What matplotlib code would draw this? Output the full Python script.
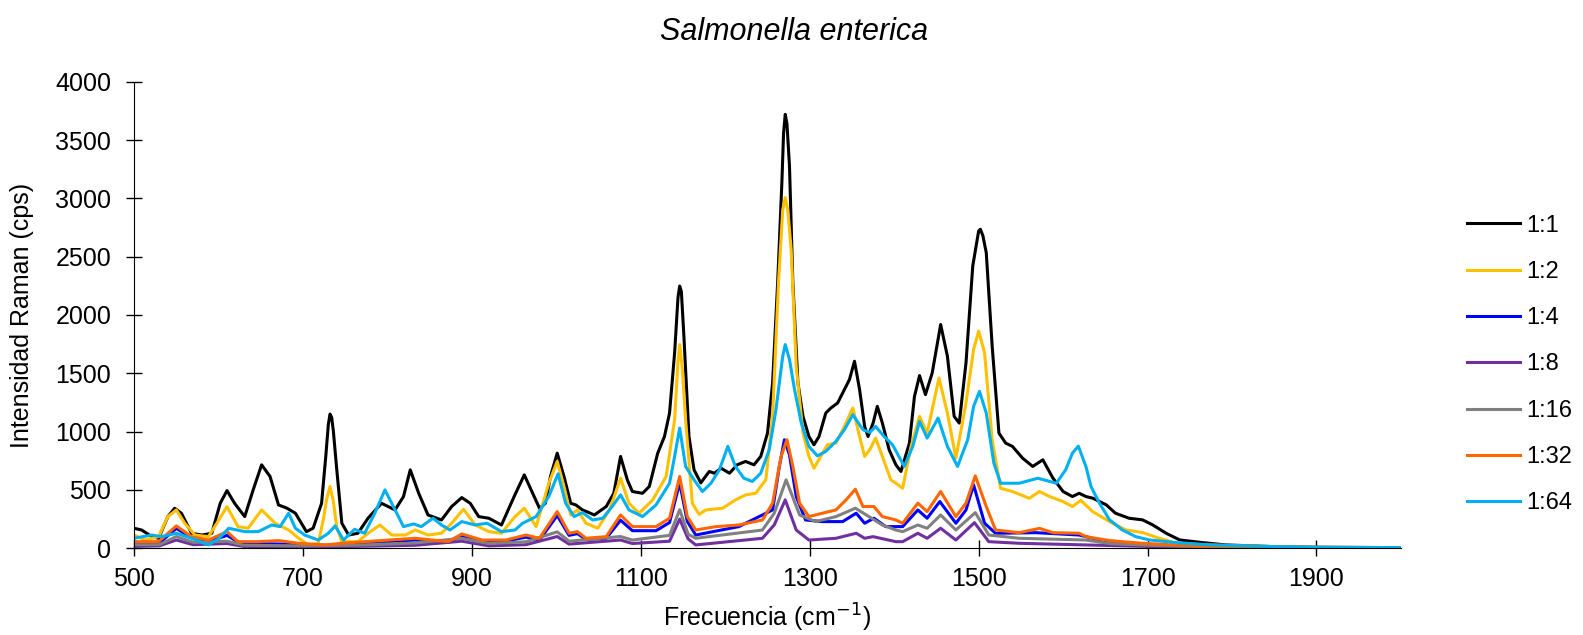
import matplotlib
matplotlib.use("Agg")
from matplotlib import pyplot as plt

plt.rcParams['font.family'] = ['Liberation Sans', 'DejaVu Sans']

# espectros: (frecuencia cm-1, intensidad cps)
s_1_1 = [(500,171),(509,156),(521,99),(529,85),(540,271),(548,343),(556,300),(568,128),(580,113),(592,128),
         (602,385),(610,494),(619,385),(631,271),(641,500),(651,715),(661,615),(671,371),(681,343),(691,300),
         (704,142),(712,171),(722,385),(727,790),(730,1060),(732,1150),(734,1120),(736,1000),(740,672),(746,214),(754,113),(765,128),
         (777,257),(793,385),(809,328),(819,443),(827,672),(837,471),(848,285),(864,242),(876,357),(888,434),
         (898,385),(908,271),(920,257),(935,199),(950,443),(962,629),(972,471),(980,343),(987,385),(993,615),
         (1001,815),(1009,615),(1017,385),(1023,371),(1031,328),(1045,285),(1059,357),(1068,471),(1076,787),
         (1084,586),(1090,486),(1102,471),(1110,529),(1120,815),(1128,958),(1134,1159),(1140,1675),(1144,2150),(1146,2248),
         (1148,2200),(1151,1818),(1157,958),(1163,672),(1171,560),(1181,658),(1187,643),(1195,686),(1205,643),(1214,715),
         (1224,744),(1234,715),(1242,787),(1250,987),(1256,1417),(1262,2276),(1267,3136),(1269,3560),(1271,3720),
         (1273,3640),(1276,3279),
         (1280,2276),(1286,1417),(1292,1130),(1299,958),(1305,887),(1311,958),(1319,1159),(1325,1202),(1333,1245),
         (1341,1360),(1347,1446),(1353,1603),(1359,1360),(1365,1044),(1369,958),(1375,1073),(1380,1216),(1386,1073),
         (1394,844),(1402,715),(1408,658),(1418,901),(1424,1302),(1430,1480),(1437,1317),(1445,1503),(1455,1918),
         (1463,1646),(1471,1130),(1477,1073),(1485,1589),(1493,2420),(1500,2720),(1502,2735),(1505,2680),(1509,2534),(1516,1732),(1524,987),
         (1532,901),(1540,873),(1552,772),(1564,701),(1576,758),(1588,600),(1600,486),(1611,443),(1619,471),
         (1627,443),(1635,429),(1651,372),(1662,300),(1678,257),(1694,243),(1706,200),(1722,128),(1738,71),
         (1765,48),(1793,28),(1852,13),(1900,8),(2000,5)]

s_1_2 = [(500,113),(513,70),(529,99),(540,271),(550,328),(560,214),(572,113),(588,99),(598,214),(610,357),
         (623,185),(635,171),(651,328),(667,214),(683,156),(695,85),(706,28),(718,42),(724,242),(728,420),
         (732,529),(736,400),(740,180),(746,56),(765,56),(777,128),(791,199),(805,113),(821,113),(833,156),
         (848,113),(864,128),(876,214),(890,334),(904,199),(920,142),(935,128),(951,271),(962,343),(976,185),
         (991,557),(1001,744),(1009,529),(1017,285),(1025,328),(1035,214),(1049,171),(1063,328),(1076,600),
         (1086,385),(1098,300),(1114,414),(1130,615),(1140,1102),(1144,1600),(1146,1746),(1149,1550),(1153,1102),(1161,385),(1169,290),
         (1177,328),(1197,343),(1212,414),(1224,457),(1236,471),(1248,586),(1256,1130),(1263,2276),(1268,2900),(1271,3007),
         (1274,2900),(1278,2563),(1284,1560),(1292,987),(1299,787),(1305,686),(1313,787),(1321,887),(1331,901),(1341,1044),
         (1351,1202),(1359,958),(1365,787),(1371,844),(1378,944),(1386,787),(1396,586),(1402,557),(1410,514),
         (1420,873),(1430,1130),(1439,987),(1453,1460),(1463,1159),(1473,772),(1485,1245),(1494,1704),(1500,1861),
         (1507,1675),(1516,930),(1526,514),(1540,486),(1560,428),(1572,486),(1584,443),(1600,400),(1611,357),
         (1621,410),(1635,314),(1655,228),(1674,157),(1694,134),(1714,85),(1734,42),(1773,28),(1852,13),
         (1900,8),(2000,5)]

s_1_4 = [(500,40),(530,45),(550,170),(568,90),(590,60),(610,110),(625,45),(650,40),(700,30),(730,25),
         (773,45),(833,70),(872,50),(888,100),(912,55),(940,60),(964,95),(980,70),(1001,280),(1015,110),
         (1025,125),(1035,75),(1059,85),(1076,240),(1090,150),(1118,150),(1134,220),(1146,560),(1155,230),
         (1165,113),(1216,185),(1256,328),(1264,700),(1270,930),(1276,800),(1284,443),(1295,242),(1315,228),(1339,228),(1355,300),
         (1365,214),(1376,257),(1390,185),(1410,185),(1428,328),(1439,257),(1454,400),(1473,214),(1485,328),
         (1494,543),(1507,214),(1520,128),(1568,133),(1619,113),(1655,50),(1700,30),(1773,12),(1900,6),(2000,5)]

s_1_8 = [(500,15),(530,20),(550,70),(570,30),(610,40),(630,15),(700,10),(760,15),(833,25),(888,60),
         (920,20),(964,30),(1001,100),(1015,35),(1076,70),(1090,40),(1134,60),(1146,250),(1156,80),(1165,28),
         (1244,85),(1258,200),(1271,414),(1284,156),(1299,70),(1331,85),(1355,128),(1365,85),(1375,99),
         (1402,56),(1410,56),(1428,128),(1439,85),(1455,171),(1473,70),(1495,219),(1512,56),(1548,42),
         (1627,28),(1700,15),(1900,5),(2000,5)]

s_1_16 = [(500,30),(530,30),(550,100),(570,50),(610,60),(630,25),(700,20),(760,25),(833,45),(888,85),
          (920,40),(964,55),(1001,140),(1015,60),(1076,100),(1090,70),(1134,110),(1146,330),(1156,120),
          (1165,85),(1244,156),(1258,300),(1272,586),(1288,285),(1307,228),(1331,271),(1354,343),(1367,285),
          (1386,199),(1402,156),(1410,142),(1428,199),(1439,171),(1455,285),(1473,156),(1496,305),(1512,113),
          (1548,85),(1627,70),(1655,40),(1700,25),(1773,10),(1900,5),(2000,5)]

s_1_32 = [(500,56),(529,56),(550,191),(568,99),(588,70),(610,142),(623,56),(647,56),(671,65),(695,42),
          (726,28),(746,42),(773,56),(833,85),(872,56),(888,122),(912,70),(940,70),(964,113),(980,85),
          (1001,314),(1015,128),(1025,142),(1035,85),(1059,99),(1076,285),(1090,185),(1118,185),(1134,257),
          (1146,615),(1155,271),(1165,156),(1189,185),(1216,199),(1244,242),(1256,385),(1266,787),(1273,930),
          (1280,701),(1288,385),(1299,271),(1315,300),(1331,328),(1343,414),(1354,506),(1363,357),(1376,357),
          (1386,271),(1402,242),(1410,214),(1428,386),(1439,314),(1455,486),(1473,271),(1485,386),(1496,620),
          (1509,357),(1520,156),(1548,133),(1572,170),(1588,133),(1619,128),(1627,99),(1655,65),(1694,42),
          (1773,13),(1900,6),(2000,5)]

s_1_64 = [(500,85),(521,113),(532,99),(550,128),(568,85),(588,28),(600,80),(612,171),(631,142),(647,142),
          (663,199),(673,185),(683,300),(691,171),(702,113),(718,70),(730,128),(738,191),(748,70),(761,162),
          (773,128),(785,300),(797,500),(807,357),(819,185),(831,208),(840,185),(854,257),(864,199),(874,156),
          (888,228),(904,199),(918,214),(935,142),(951,156),(960,214),(976,271),(991,443),(1002,638),(1011,385),
          (1021,271),(1031,305),(1043,242),(1055,257),(1066,357),(1076,457),(1086,328),(1102,271),(1118,371),
          (1134,557),(1140,787),(1146,1030),(1153,701),(1163,586),(1173,486),(1183,557),(1193,672),(1203,873),
          (1212,701),(1222,600),(1232,572),(1242,643),(1252,844),(1260,1188),(1268,1646),(1271,1746),(1276,1618),
          (1282,1360),(1290,1073),(1299,873),(1309,792),(1319,830),(1331,916),(1341,1016),(1351,1145),(1363,1016),
          (1371,993),(1378,1044),(1388,958),(1398,887),(1412,701),(1422,873),(1430,1087),(1439,944),(1452,1116),
          (1463,873),(1475,701),(1487,930),(1494,1216),(1501,1345),(1509,1159),(1518,729),(1526,557),(1548,557),
          (1570,600),(1592,557),(1603,672),(1611,815),(1618,875),(1627,701),(1633,529),(1643,386),(1655,243),
          (1670,157),(1686,99),(1702,71),(1734,48),(1773,28),(1852,13),(1900,8),(2000,5)]

etiquetas = ['1:1', '1:2', '1:4', '1:8', '1:16', '1:32', '1:64']
espectros = [s_1_1, s_1_2, s_1_4, s_1_8, s_1_16, s_1_32, s_1_64]
colores = ['#000000', '#FFC000', '#0000FF', '#7030A0', '#808080', '#FF6600', '#00B0F0']

fig = plt.figure(figsize=(15.83, 6.35), dpi=100)
ax = fig.add_axes([0.0847, 0.1367, 0.8003, 0.7346])

for esp, et, col in zip(espectros, etiquetas, colores):
    x = [p[0] for p in esp]
    y = [p[1] for p in esp]
    ax.plot(x, y, color=col, lw=2.2, label=et, solid_joinstyle='round')

ax.set_xlim(500, 2000)
ax.set_ylim(0, 4000)
ax.set_xticks(range(500, 2000, 200))
ax.set_yticks(range(0, 4001, 500))
ax.spines['top'].set_visible(False)
ax.spines['right'].set_visible(False)
ax.tick_params(direction='inout', length=11, width=1, labelsize=18)
ax.tick_params(axis='x', pad=8)
ax.tick_params(axis='y', pad=11)

fig.text(0.4842, 0.0126, "Frecuencia (cm$^{-1}$)", ha='center', va='baseline', fontsize=18)
fig.text(0.0142, 0.504, "Intensidad Raman (cps)", ha='center', va='center', rotation=90, fontsize=18)
fig.text(0.5016, 0.937, "Salmonella enterica", ha='center', va='baseline', fontsize=22, style='italic')

ax.legend(loc='center left', bbox_to_anchor=(0.9135, 0.426), bbox_transform=fig.transFigure,
          frameon=False, fontsize=17, handlelength=2.25, labelspacing=1.03, handletextpad=0.25)

plt.savefig("out.png", dpi=100)
